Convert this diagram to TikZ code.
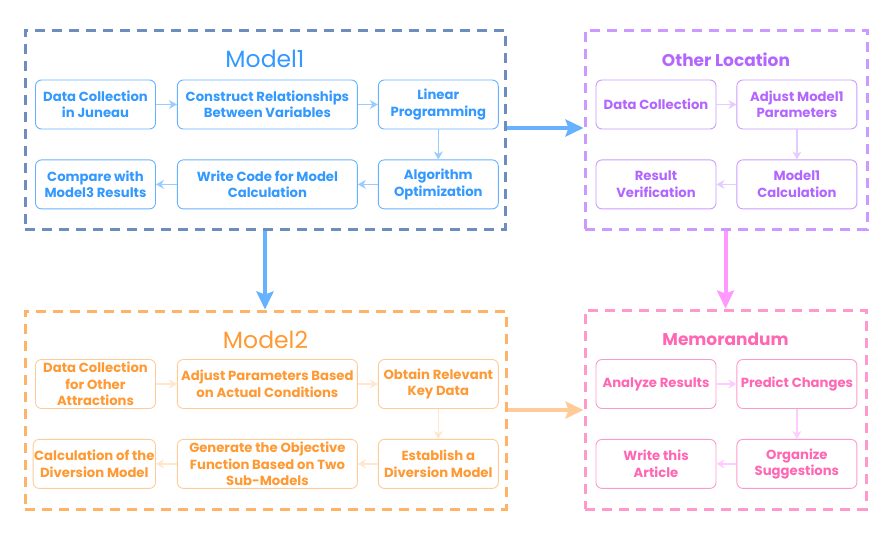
\documentclass[tikz,border=0pt]{standalone}
\usepackage{fontspec}
\setmainfont{Poppins}
\usepackage{xcolor}
\usetikzlibrary{arrows.meta,positioning}

\definecolor{mOneFrame}{HTML}{6C8EBF}
\definecolor{mOneText}{HTML}{3399FF}
\definecolor{mOneBox}{HTML}{66B2FF}
\definecolor{mOneFlow}{HTML}{99CCFF}
\definecolor{olFrame}{HTML}{CC99FF}
\definecolor{olText}{HTML}{B266FF}
\definecolor{olFlow}{HTML}{E5CCFF}
\definecolor{mTwoFrame}{HTML}{FFB366}
\definecolor{mTwoText}{HTML}{FF9933}
\definecolor{mTwoBox}{HTML}{FFCC99}
\definecolor{mTwoFlow}{HTML}{FFE6CC}
\definecolor{memoFrame}{HTML}{FF99CC}
\definecolor{memoText}{HTML}{FF66B3}
\definecolor{memoFlow}{HTML}{FFCCFF}
\definecolor{linkBlue}{HTML}{66B2FF}
\definecolor{linkPink}{HTML}{FF99FF}

\begin{document}
\begin{tikzpicture}[x=1pt,y=-1pt,font=\bfseries\fontsize{13.2}{16.5}\selectfont]
    \tikzset{frame/.style={draw=#1,line width=3pt,dash pattern=on 10pt off 7pt},
             task/.style={draw=#1,rounded corners=6pt,line width=0.9pt,align=center,
                          minimum width=120pt,minimum height=49pt,inner sep=1pt},
             wide/.style={minimum width=180pt},
             flow/.style={-{Stealth[length=8pt,width=9pt,inset=2.5pt]},draw=#1,line width=1.2pt},
             link/.style={-{Stealth[length=18pt,width=17pt,inset=3pt]},draw=#1,line width=4pt}}

    \useasboundingbox (0,0) rectangle (893,533);

    % frames
    \node[frame=mOneFrame,minimum width=480pt,minimum height=199pt] (m1) at (265,129.5) {};
    \node[frame=olFrame,minimum width=282pt,minimum height=199pt] (ol) at (726,129.5) {};
    \node[frame=mTwoFrame,minimum width=481pt,minimum height=198pt] (m2) at (265.5,410) {};
    \node[frame=memoFrame,minimum width=281pt,minimum height=199pt] (memo) at (725.5,409.5) {};

    \node[text=mOneText,font=\mdseries\fontsize{23.5}{28}\selectfont] (t1) at ([yshift=-30pt]m1.north) {Model1};
    \node[text=olText,font=\bfseries\fontsize{17}{20}\selectfont] (t2) at ([yshift=-31pt]ol.north) {Other Location};
    \node[text=mTwoText,font=\mdseries\fontsize{23.5}{28}\selectfont] (t3) at ([yshift=-30pt]m2.north) {Model2};
    \node[text=memoText,font=\bfseries\fontsize{17}{20}\selectfont] (t4) at ([yshift=-31pt]memo.north) {Memorandum};

    % Model1
    \node[task=mOneBox,text=mOneText] (a1) at (95.5,104.5) {Data Collection\\in Juneau};
    \node[task=mOneBox,text=mOneText,wide] (a2) [right=21pt of a1] {Construct Relationships\\Between Variables};
    \node[task=mOneBox,text=mOneText] (a3) [right=20pt of a2] {Linear\\Programming};
    \node[task=mOneBox,text=mOneText] (a4) [below=30pt of a3] {Algorithm\\Optimization};
    \node[task=mOneBox,text=mOneText,wide] (a5) [left=20pt of a4] {Write Code for Model\\Calculation};
    \node[task=mOneBox,text=mOneText] (a6) [left=21pt of a5] {Compare with\\Model3 Results};

    \draw[flow=mOneFlow] (a1) -- (a2);
    \draw[flow=mOneFlow] (a2) -- (a3);
    \draw[flow=mOneFlow] (a3) -- (a4);
    \draw[flow=mOneFlow] (a4) -- (a5);
    \draw[flow=mOneFlow] (a5) -- (a6);

    % Other Location
    \node[task=olFrame,text=olText] (b1) at (656,104.5) {Data Collection};
    \node[task=olFrame,text=olText] (b2) [right=20pt of b1] {Adjust Model1\\Parameters};
    \node[task=olFrame,text=olText] (b3) [below=30pt of b2] {Model1\\Calculation};
    \node[task=olFrame,text=olText] (b4) [left=20pt of b3] {Result\\Verification};

    \draw[flow=olFlow] (b1) -- (b2);
    \draw[flow=olFlow] (b2) -- (b3);
    \draw[flow=olFlow] (b3) -- (b4);

    % Model2
    \node[task=mTwoBox,text=mTwoText] (c1) at (95.5,384) {\fontsize{13.2}{15.5}\selectfont Data Collection\\for Other\\Attractions};
    \node[task=mTwoBox,text=mTwoText,wide] (c2) [right=21pt of c1] {Adjust Parameters Based\\on Actual Conditions};
    \node[task=mTwoBox,text=mTwoText] (c3) [right=20pt of c2] {Obtain Relevant\\Key Data};
    \node[task=mTwoBox,text=mTwoText] (c4) [below=30pt of c3] {Establish a\\Diversion Model};
    \node[task=mTwoBox,text=mTwoText,wide] (c5) [left=20pt of c4] {\fontsize{13.2}{15.5}\selectfont Generate the Objective\\Function Based on Two\\Sub-Models};
    \node[task=mTwoBox,text=mTwoText] (c6) [left=21pt of c5] {Calculation of the\\Diversion Model};

    \draw[flow=mTwoFlow] (c1) -- (c2);
    \draw[flow=mTwoFlow] (c2) -- (c3);
    \draw[flow=mTwoFlow] (c3) -- (c4);
    \draw[flow=mTwoFlow] (c4) -- (c5);
    \draw[flow=mTwoFlow] (c5) -- (c6);

    % Memorandum
    \node[task=memoFrame,text=memoText] (d1) at (656,384) {Analyze Results};
    \node[task=memoFrame,text=memoText] (d2) [right=20pt of d1] {Predict Changes};
    \node[task=memoFrame,text=memoText] (d3) [below=30pt of d2] {Organize\\Suggestions};
    \node[task=memoFrame,text=memoText] (d4) [left=20pt of d3] {Write this\\Article};

    \draw[flow=memoFlow] (d1) -- (d2);
    \draw[flow=memoFlow] (d2) -- (d3);
    \draw[flow=memoFlow] (d3) -- (d4);

    % links between parts
    \draw[link=linkBlue] ([yshift=1.5pt]m1.east) -- ([yshift=1.5pt]ol.west);
    \draw[link=linkBlue] (m1.south) -- (m2.north -| m1.south);
    \draw[link=linkPink] (ol.south -| memo.north) -- (memo.north);
    \draw[link=mTwoBox] (m2.east) -- (memo.west |- m2.east);
\end{tikzpicture}
\end{document}
